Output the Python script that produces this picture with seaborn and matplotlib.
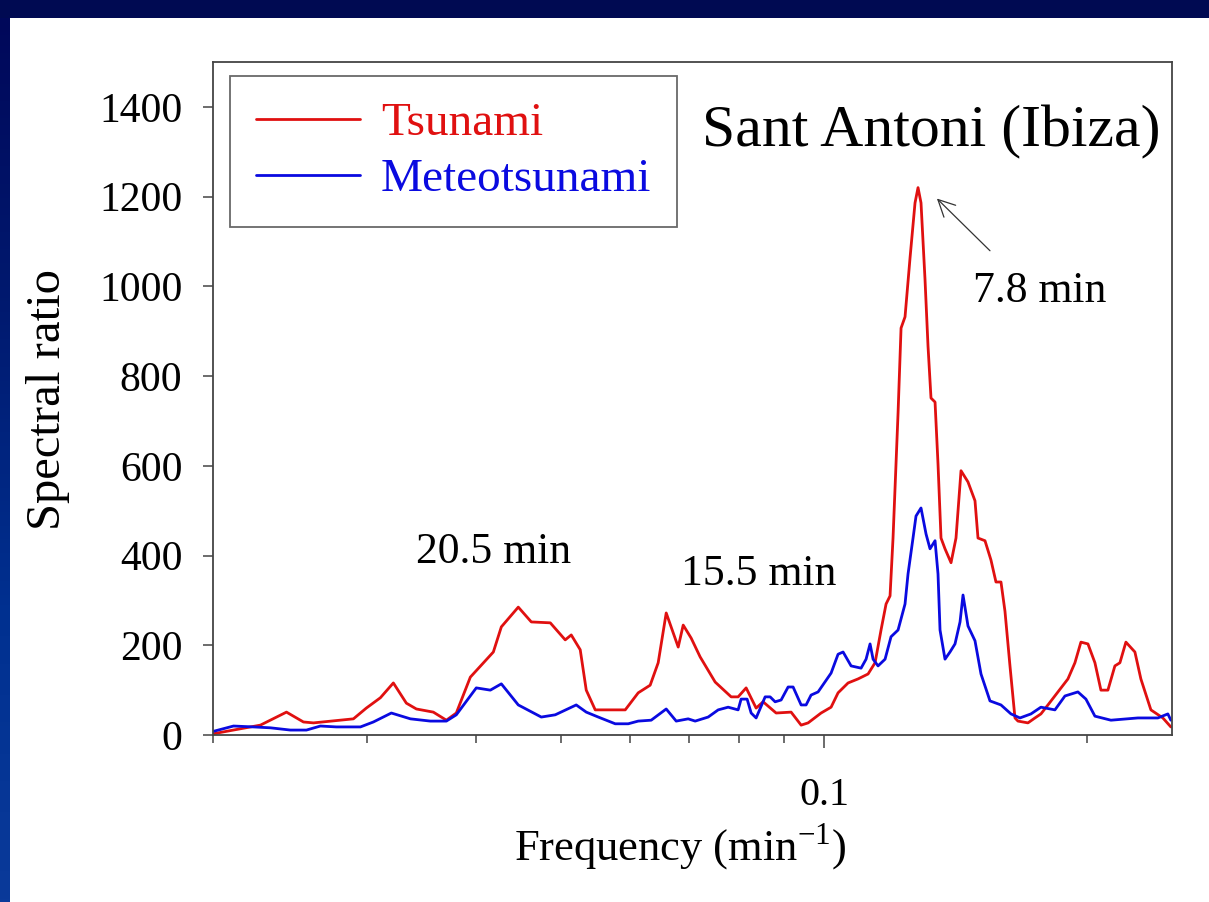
import numpy as np
import pandas as pd
import matplotlib
matplotlib.use("Agg")
import matplotlib.pyplot as plt
import seaborn as sns
from matplotlib.ticker import FixedLocator, NullFormatter, FixedFormatter
from matplotlib.patches import Rectangle
from matplotlib.lines import Line2D
from matplotlib.colors import LinearSegmentedColormap

# ---------------- data ----------------
tsunami_freq = [0.01992, 0.0211, 0.02266, 0.02427, 0.02538, 0.02606, 0.02895, 0.02995, 0.03108,
                0.03216, 0.03328, 0.03417, 0.03573, 0.03698, 0.03796, 0.03939, 0.04185, 0.04274,
                0.04469, 0.04625, 0.04862, 0.05057, 0.05138, 0.05261, 0.05345, 0.05473, 0.05923,
                0.06129, 0.06325, 0.0646, 0.06598, 0.0681, 0.069, 0.07046, 0.07215, 0.07506,
                0.07829, 0.07974, 0.08144, 0.08361, 0.08516, 0.08813, 0.09168, 0.09413, 0.09588,
                0.09921, 0.10186, 0.10375, 0.10652, 0.10936, 0.11228, 0.11437, 0.11618, 0.11773,
                0.11897, 0.11991, 0.12151, 0.12247, 0.12376, 0.12541, 0.12706, 0.12807, 0.12908,
                0.13045, 0.13148, 0.13252, 0.13394, 0.13499, 0.13606, 0.1375, 0.1397, 0.14154,
                0.14342, 0.14608, 0.1488, 0.14998, 0.15277, 0.15519, 0.15725, 0.15934, 0.16102,
                0.16316, 0.16532, 0.16663, 0.17107, 0.17426, 0.17702, 0.18032, 0.18513, 0.19007,
                0.1936, 0.19668, 0.20035, 0.20407, 0.20732, 0.21117, 0.21509, 0.21795, 0.22142,
                0.22673, 0.23032, 0.23648, 0.24405, 0.24925]
tsunami_ratio = [2, 11, 22, 51, 29, 27, 36, 60, 83,
                 116, 71, 58, 51, 33, 49, 129, 185, 241,
                 285, 252, 250, 212, 223, 190, 100, 56, 56,
                 94, 111, 161, 272, 196, 245, 216, 174, 118,
                 85, 85, 105, 60, 74, 49, 51, 22, 27,
                 49, 62, 94, 116, 125, 136, 161, 234, 292,
                 310, 439, 718, 907, 932, 1064, 1186, 1220, 1186,
                 1015, 867, 751, 742, 604, 439, 415, 384, 439,
                 589, 564, 522, 439, 433, 390, 341, 341, 276,
                 154, 38, 31, 27, 38, 47, 67, 96, 125,
                 161, 207, 203, 161, 100, 100, 154, 161, 207,
                 185, 125, 56, 38, 18]

meteo_freq = [0.01992, 0.02111, 0.02225, 0.02327, 0.02452, 0.02558, 0.02654, 0.02768, 0.02949,
              0.03051, 0.03199, 0.03364, 0.03545, 0.03698, 0.03796, 0.04001, 0.04152, 0.04274,
              0.04469, 0.04748, 0.04926, 0.05206, 0.05345, 0.05517, 0.05769, 0.0597, 0.06129,
              0.06342, 0.06598, 0.06774, 0.06991, 0.07121, 0.07369, 0.07566, 0.07767, 0.07974,
              0.08037, 0.08165, 0.08252, 0.08361, 0.08562, 0.08675, 0.0879, 0.0893, 0.09096,
              0.09216, 0.09413, 0.09537, 0.09663, 0.09843, 0.10186, 0.10375, 0.10513, 0.10737,
              0.11023, 0.11169, 0.11287, 0.11377, 0.11527, 0.11742, 0.11928, 0.12151, 0.12376,
              0.12474, 0.12639, 0.12739, 0.12908, 0.1308, 0.13218, 0.13394, 0.13499, 0.13571,
              0.1375, 0.13932, 0.14117, 0.14305, 0.14418, 0.14608, 0.1488, 0.15117, 0.15479,
              0.15934, 0.16359, 0.16751, 0.17243, 0.17702, 0.18367, 0.18858, 0.19513, 0.19929,
              0.20407, 0.21285, 0.22851, 0.24087, 0.24729, 0.24925]
meteo_ratio = [7, 20, 18, 16, 11, 11, 20, 18, 18,
               29, 49, 36, 31, 31, 45, 105, 100, 114,
               67, 40, 45, 67, 51, 40, 25, 25, 31,
               33, 58, 31, 36, 31, 40, 56, 62, 56,
               80, 80, 49, 38, 85, 85, 74, 78, 107,
               107, 67, 67, 89, 96, 138, 180, 185, 154,
               149, 169, 203, 169, 154, 169, 219, 234, 292,
               359, 439, 488, 506, 448, 415, 433, 359, 234,
               169, 185, 203, 252, 312, 243, 210, 136, 76,
               67, 47, 38, 47, 62, 56, 87, 96, 80,
               42, 33, 38, 38, 47, 33]

series_names = ["Tsunami", "Meteotsunami"]
series_colors = ["#e01010", "#0a0ae0"]
y_ticks = [0, 200, 400, 600, 800, 1000, 1200, 1400]
x_major = [0.1]
x_major_labels = ["0.1"]
x_minor = [0.02, 0.03, 0.04, 0.05, 0.06, 0.07, 0.08, 0.09, 0.2]
annotations = [("20.5 min", 0.03417, 383), ("15.5 min", 0.06864, 334), ("7.8 min", 0.148, 965)]

df = pd.concat([
    pd.DataFrame({"freq": tsunami_freq, "ratio": tsunami_ratio, "series": series_names[0]}),
    pd.DataFrame({"freq": meteo_freq, "ratio": meteo_ratio, "series": series_names[1]}),
], ignore_index=True)

# ---------------- style ----------------
sns.set_theme(style="ticks")
plt.rcParams["font.family"] = ["Liberation Serif", "DejaVu Serif"]
plt.rcParams["mathtext.fontset"] = "custom"
plt.rcParams["mathtext.rm"] = "Liberation Serif"
plt.rcParams["text.color"] = "black"
plt.rcParams["axes.labelcolor"] = "black"
plt.rcParams["xtick.labelcolor"] = "black"
plt.rcParams["ytick.labelcolor"] = "black"

W, H = 1209, 902
fig = plt.figure(figsize=(W / 100, H / 100), dpi=100, facecolor="white")

# slide background strips
fig.patches.append(Rectangle((0, 1 - 18 / H), 1, 18 / H, transform=fig.transFigure,
                             facecolor="#000a52", edgecolor="none", zorder=-5))
bg = fig.add_axes([0, 0, 10 / W, 1 - 18 / H])
grad = np.linspace(0, 1, 256).reshape(-1, 1)
cm = LinearSegmentedColormap.from_list("slide", ["#00085a", "#001a70", "#003090", "#0a3a9a"])
bg.imshow(grad, aspect="auto", cmap=cm, origin="upper")
bg.set_axis_off()

ax = fig.add_axes([213 / W, 1 - 735 / H, (1172 - 213) / W, (735 - 62) / H])

sns.lineplot(data=df, x="freq", y="ratio", hue="series", hue_order=series_names,
             palette=dict(zip(series_names, series_colors)), estimator=None,
             linewidth=2.0, legend=False, ax=ax)

ax.set_xscale("log")
ax.set_xlim(0.02, 0.25)
ax.set_ylim(0, 1500)

ax.xaxis.set_major_locator(FixedLocator(x_major))
ax.xaxis.set_major_formatter(FixedFormatter(x_major_labels))
ax.xaxis.set_minor_locator(FixedLocator(x_minor))
ax.xaxis.set_minor_formatter(NullFormatter())
ax.set_yticks(y_ticks)
ax.yaxis.set_minor_locator(FixedLocator([]))

for s in ax.spines.values():
    s.set_color("#444444")
    s.set_linewidth(1.3)

ax.tick_params(axis="x", which="major", direction="out", length=9, width=1.1,
               color="#444444", labelsize=29, pad=21, labelcolor="black")
ax.tick_params(axis="x", which="minor", direction="out", length=6, width=1.1, color="#444444")
ax.tick_params(axis="y", which="major", direction="out", length=7, width=1.1,
               color="#444444", labelsize=30, pad=15, labelcolor="black")

ax.set_xlabel("Frequency (min$^{\\mathregular{-1}}$)", fontsize=32, color="black")
ax.set_ylabel("Spectral ratio", fontsize=35, color="black")
ax.xaxis.set_label_coords(0.487, -0.129)
ax.yaxis.set_label_coords(-0.149, 0.498)

ax.text(0.9875, 0.874, "Sant Antoni (Ibiza)", transform=ax.transAxes, ha="right",
        va="baseline", fontsize=43, color="black")

for txt, fx, fy in annotations:
    ax.text(fx, fy, txt, ha="left", va="baseline", fontsize=31.5, color="black")

ax.annotate("", xy=(0.1339, 1200), xytext=(0.1556, 1075),
            arrowprops=dict(arrowstyle="->", color="#333333", lw=0.9,
                            mutation_scale=30))

handles = [Line2D([], [], color=c, lw=2.0) for c in series_colors]
leg = ax.legend(handles, series_names, loc="upper left",
                bbox_to_anchor=(17 / 959, 1 - 14 / 673), borderaxespad=0,
                fontsize=34, frameon=True, fancybox=False, handlelength=2.2,
                handletextpad=0.45, borderpad=0.55, labelspacing=0.28)
leg.get_frame().set_edgecolor("#444444")
leg.get_frame().set_linewidth(1.3)
for t, c in zip(leg.get_texts(), series_colors):
    t.set_color(c)

fig.savefig("out.png", dpi=100, facecolor="white")
